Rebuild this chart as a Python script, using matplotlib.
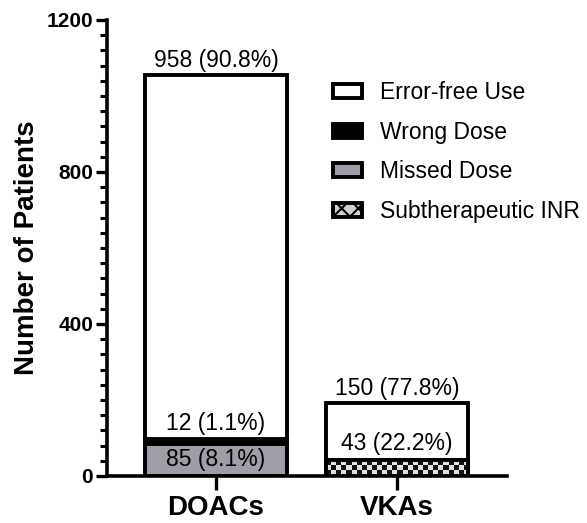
import numpy as np
import matplotlib
matplotlib.use("Agg")
import matplotlib.pyplot as plt
from matplotlib.patches import Patch
from matplotlib.ticker import MultipleLocator

plt.rcParams['font.family'] = ['Liberation Sans', 'DejaVu Sans']
plt.rcParams['hatch.linewidth'] = 1.5

categories = ["DOACs", "VKAs"]
error_free = [958, 150]
wrong_dose = [12, 0]
missed_dose = [85, 0]
subther_inr = [0, 43]
labels_error_free = ["958 (90.8%)", "150 (77.8%)"]
label_wrong = "12 (1.1%)"
label_missed = "85 (8.1%)"
label_inr = "43 (22.2%)"
yticks = [0, 400, 800, 1200]

fig = plt.figure(figsize=(5.87, 5.23), dpi=100)
ax = fig.add_axes([0.1823, 0.0899, 0.6814, 0.8719])

x = np.arange(len(categories))
w = 0.785
lw = 2.8
gray = '#9e9ea6'

missed_b = ax.bar(x, missed_dose, w, color=gray, edgecolor='black', linewidth=lw, zorder=2)
bottom1 = np.array(missed_dose)
inr_b = ax.bar(x, subther_inr, w, bottom=bottom1, color='#d0d0d0', edgecolor='black', linewidth=lw, zorder=2)
bottom2 = bottom1 + np.array(subther_inr)
wrong_b = ax.bar(x, wrong_dose, w, bottom=bottom2, color='black', edgecolor='black', linewidth=lw, zorder=2)
bottom3 = bottom2 + np.array(wrong_dose)
ef_b = ax.bar(x, error_free, w, bottom=bottom3, color='white', edgecolor='black', linewidth=lw, zorder=2)

# checkerboard fill for subtherapeutic INR
for rect in inr_b:
    if rect.get_height() <= 0:
        continue
    nx, ny = 28, 3
    board = (np.add.outer(np.arange(ny), np.arange(nx)) % 2).astype(float)
    im = ax.imshow(board, cmap='gray', vmin=-0.1, vmax=1.15, interpolation='nearest',
                   extent=[rect.get_x(), rect.get_x() + rect.get_width(),
                           rect.get_y(), rect.get_y() + rect.get_height()],
                   aspect='auto', zorder=2.5)
    im.set_clip_path(rect)
    ax.bar(rect.get_x() + rect.get_width() / 2, rect.get_height(), rect.get_width(),
           bottom=rect.get_y(), fill=False, edgecolor='black', linewidth=lw, zorder=3)

fs = 16.5
for i, rect in enumerate(ef_b):
    top = rect.get_y() + rect.get_height()
    ax.annotate(labels_error_free[i], (rect.get_x() + rect.get_width() / 2, top),
                xytext=(0, 2), textcoords='offset points', ha='center', va='bottom', fontsize=fs)

r = wrong_b[0]
ax.annotate(label_wrong, (r.get_x() + r.get_width() / 2, r.get_y() + r.get_height()),
            xytext=(0, 3), textcoords='offset points', ha='center', va='bottom', fontsize=fs)
r = missed_b[0]
ax.text(r.get_x() + r.get_width() / 2, r.get_y() + r.get_height() / 2, label_missed,
        ha='center', va='center', fontsize=fs, zorder=4)
r = inr_b[1]
ax.annotate(label_inr, (r.get_x() + r.get_width() / 2, r.get_y() + r.get_height()),
            xytext=(0, 3), textcoords='offset points', ha='center', va='bottom', fontsize=fs)

ax.set_xlim(-0.602, 1.608)
ax.set_ylim(0, 1200)
ax.set_yticks(yticks)
ax.yaxis.set_minor_locator(MultipleLocator(40))
ax.set_xticks(x)
ax.set_xticklabels(categories, fontsize=20, fontweight='bold')
for t in ax.get_yticklabels():
    t.set_fontweight('bold')
    t.set_fontsize(15)
ax.set_ylabel("Number of Patients", fontsize=20, fontweight='bold', labelpad=5)

for s in ['top', 'right']:
    ax.spines[s].set_visible(False)
for s in ['left', 'bottom']:
    ax.spines[s].set_linewidth(2.6)
ax.spines['left'].set_zorder(5)
ax.tick_params(axis='y', which='major', length=8, width=2.4, pad=2)
ax.tick_params(axis='y', which='minor', length=5, width=2.2)
ax.tick_params(axis='x', which='major', length=10, width=2.4, pad=4)

handles = [Patch(facecolor='white', edgecolor='black', linewidth=lw, label='Error-free Use'),
           Patch(facecolor='black', edgecolor='black', linewidth=lw, label='Wrong Dose'),
           Patch(facecolor=gray, edgecolor='black', linewidth=lw, label='Missed Dose'),
           Patch(facecolor='black', edgecolor='black', linewidth=lw, label='Subtherapeutic INR')]
leg = fig.legend(handles=handles, loc='upper left', bbox_to_anchor=(0.551, 0.862), frameon=False,
                 fontsize=fs, handlelength=1.27, handleheight=0.55, handletextpad=0.8,
                 labelspacing=0.72, borderaxespad=0)
h = leg.legend_handles[3]
h.set_facecolor('#d0d0d0')
h.set_hatch('xx')

fig.savefig("out.png", dpi=100)
